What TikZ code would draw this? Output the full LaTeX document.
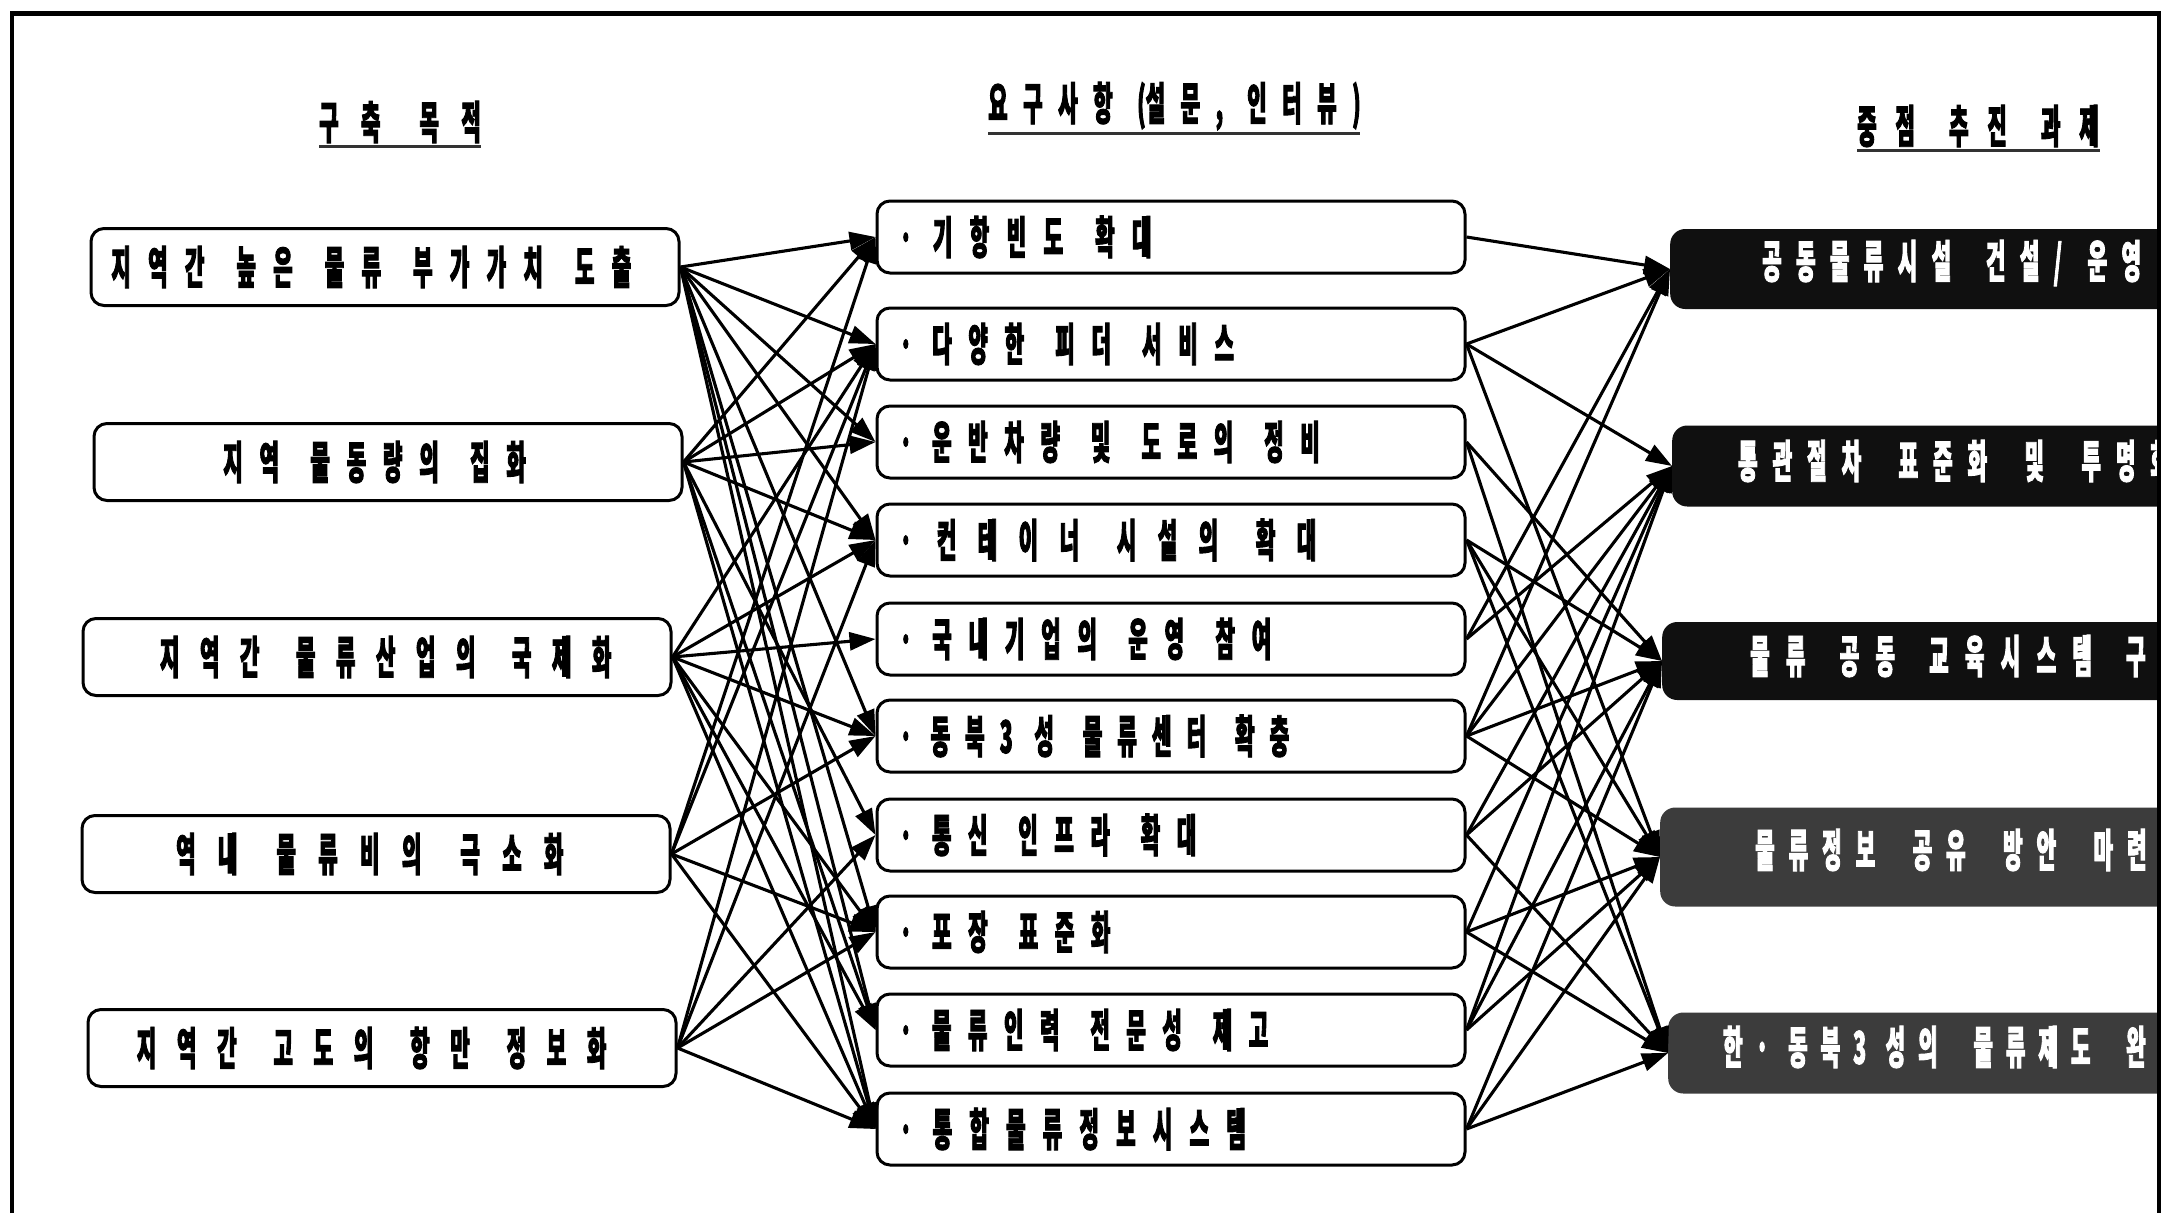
\documentclass[tikz,border=0pt]{standalone}
\usepackage{fontspec}
\usetikzlibrary{arrows.meta}
\newfontfamily\krfont{Noto Sans CJK KR}[FakeStretch=0.47,FakeBold=2]
\definecolor{inkdark}{HTML}{101010}
\definecolor{inkgray}{HTML}{3C3C3C}

% \spread{pitch}{gap factor}{text}: every character gets a slot of the
% given pitch (brackets and commas half a slot), a ~ gives a word gap
\newlength\slotw
\newcommand\spread[3]{\setlength\slotw{#1pt}\def\gapf{#2}\spreadloop#3\relax}
\def\spreadloop#1{%
  \ifx\relax#1\else
    \ifx~#1\hbox to \gapf\slotw{\hss}%
    \else\ifx(#1\makebox[0.5\slotw][r]{#1}%
    \else\ifx)#1\makebox[0.5\slotw][l]{#1}%
    \else\ifx,#1\makebox[0.5\slotw][l]{#1}%
    \else\makebox[\slotw][l]{#1}\fi\fi\fi\fi
    \expandafter\spreadloop
  \fi}
\newcommand\pad[1]{\hbox to #1pt{\hss}}

\tikzset{
  kr/.style={font=\krfont\bfseries\fontsize{45}{48}\selectfont},
  hdr/.style={kr, anchor=west, inner xsep=0pt, inner ysep=3pt},
  uline/.style={line width=2.8pt, black!80},
  lbox/.style={kr, draw, line width=3pt, rounded corners=13pt,
    minimum width=588pt, minimum height=77pt, inner sep=0pt, align=center},
  mbox/.style={kr, draw, line width=3pt, rounded corners=13pt,
    text width=550pt, inner xsep=19pt, minimum height=72pt, align=left},
  rbox/.style={fill=inkdark, rounded corners=15pt, minimum width=640pt,
    anchor=west, inner sep=0pt},
  rtext/.style={kr, text=white, anchor=west, inner sep=0pt},
  link/.style={line width=3.1pt, -{Triangle[length=26pt,width=18pt]}},
  frame/.style={line width=3.5pt}
}

\begin{document}
\begin{tikzpicture}[x=1pt,y=-1pt]
\useasboundingbox (0,0) rectangle (2165,1213);
\fill[white] (0,0) rectangle (2165,1213);

% column headings
\node[hdr] (h1) at (319,122)  {\spread{41.8}{0.4}{구축~목적}};
\node[hdr] (h2) at (988,106)  {\spread{35}{0.4}{요구사항(설문,~인터뷰)}};
\node[hdr] (h3) at (1857,126) {\spread{38.3}{0.4}{중점~추진~과제}};
\draw[uline] (h1.south west) -- ([xshift=-22pt]h1.south east);
\draw[uline] (h2.south west) -- ([xshift=-10pt]h2.south east);
\draw[uline] (h3.south west) -- ([xshift=-18pt]h3.south east);

% goals
\node[lbox] (l1) at (385,267)  {\spread{36.8}{0.4}{지역간~높은~물류~부가가치~도출}\pad{10}};
\node[lbox] (l2) at (388,462)  {\spread{36.3}{0.4}{지역~물동량의~집화}\pad{10}};
\node[lbox] (l3) at (377,657)  {\pad{38}\spread{40}{0.4}{지역간~물류산업의~국제화}};
\node[lbox] (l4) at (376,854)  {\pad{10}\spread{41.8}{0.4}{역내~물류비의~극소화}};
\node[lbox] (l5) at (382,1048) {\spread{40.2}{0.4}{지역간~고도의~항만~정보화}};

% requirements
\node[mbox] (m1)  at (1171,237)  {\spread{36.9}{0.4}{ㆍ기항빈도~확대}};
\node[mbox] (m2)  at (1171,344)  {\spread{36.2}{0.4}{ㆍ다양한~피더~서비스}};
\node[mbox] (m3)  at (1171,442)  {\spread{36.1}{0.4}{ㆍ운반차량~및~도로의~정비}};
\node[mbox] (m4)  at (1171,540)  {\spread{40.9}{0.4}{ㆍ컨테이너~시설의~확대}};
\node[mbox] (m5)  at (1171,639)  {\spread{36.3}{0.4}{ㆍ국내기업의~운영~참여}};
\node[mbox] (m6)  at (1171,736)  {\spread{34.6}{0.4}{ㆍ동북3성~물류센터~확충}};
\node[mbox] (m7)  at (1171,835)  {\spread{36}{0.4}{ㆍ통신~인프라~확대}};
\node[mbox] (m8)  at (1171,932)  {\spread{36.1}{0.4}{ㆍ포장~표준화}};
\node[mbox] (m9)  at (1171,1030) {\spread{36}{0.4}{ㆍ물류인력~전문성~제고}};
\node[mbox] (m10) at (1171,1129) {\spread{36.7}{0.4}{ㆍ통합물류정보시스템}};

% key tasks (cut off by the frame on the right)
\begin{scope}
\clip (0,0) rectangle (2158,1213);
\node[rbox, minimum height=80pt] (r1) at (1670,269) {};
\node[rbox, minimum height=81pt] (r2) at (1672,466) {};
\node[rbox, minimum height=78pt] (r3) at (1662,661) {};
\node[rbox, minimum height=99pt, fill=inkgray] (r4) at (1660,857) {};
\node[rbox, minimum height=81pt, fill=inkgray] (r5) at (1668,1053) {};
\node[rtext] (r1t) at (1762,263)  {\spread{33.9}{0.6}{공동물류시설~건설/운영}};
\node[rtext] (r2t) at (1738,461)  {\spread{34.5}{0.65}{통관절차~표준화~및~투명화}};
\node[rtext] (r3t) at (1750,656)  {\spread{35.8}{0.5}{물류~공동~교육시스템~구축}};
\node[rtext] (r4t) at (1755,850)  {\spread{33.5}{0.7}{물류정보~공유~방안~마련}};
\node[rtext] (r5t) at (1723,1047) {\spread{32.5}{0.7}{한·동북3성의~물류제도~완비}};
\end{scope}

% goals -> requirements
\foreach \s/\t in {l1/m1,l1/m2,l1/m3,l1/m4,l1/m6,l1/m8,l1/m9,l1/m10,
                   l2/m1,l2/m2,l2/m3,l2/m4,l2/m7,l2/m9,l2/m10,
                   l3/m2,l3/m4,l3/m5,l3/m6,l3/m8,l3/m9,l3/m10,
                   l4/m1,l4/m2,l4/m6,l4/m8,l4/m10,
                   l5/m2,l5/m4,l5/m7,l5/m8,l5/m10}
  \draw[link] (\s.east) -- (\t.west);

% requirements -> key tasks
\foreach \s/\t in {m1/r1,
                   m2/r1,m2/r2,m2/r4,
                   m3/r3,m3/r5,
                   m4/r3,m4/r4,m4/r5,
                   m5/r1,m5/r2,
                   m6/r1,m6/r2,m6/r3,m6/r4,
                   m7/r2,m7/r3,m7/r5,
                   m8/r2,m8/r4,m8/r5,
                   m9/r2,m9/r3,m9/r4,
                   m10/r3,m10/r4,m10/r5}
  \draw[link] (\s.east) -- (\t.west);

% outer frame, open at the bottom
\draw[frame] (12,1213) -- (12,13);
\draw[frame] (2159,13) -- (2159,1213);
\draw[line width=5pt] (10,13) -- (2161,13);
\end{tikzpicture}
\end{document}
